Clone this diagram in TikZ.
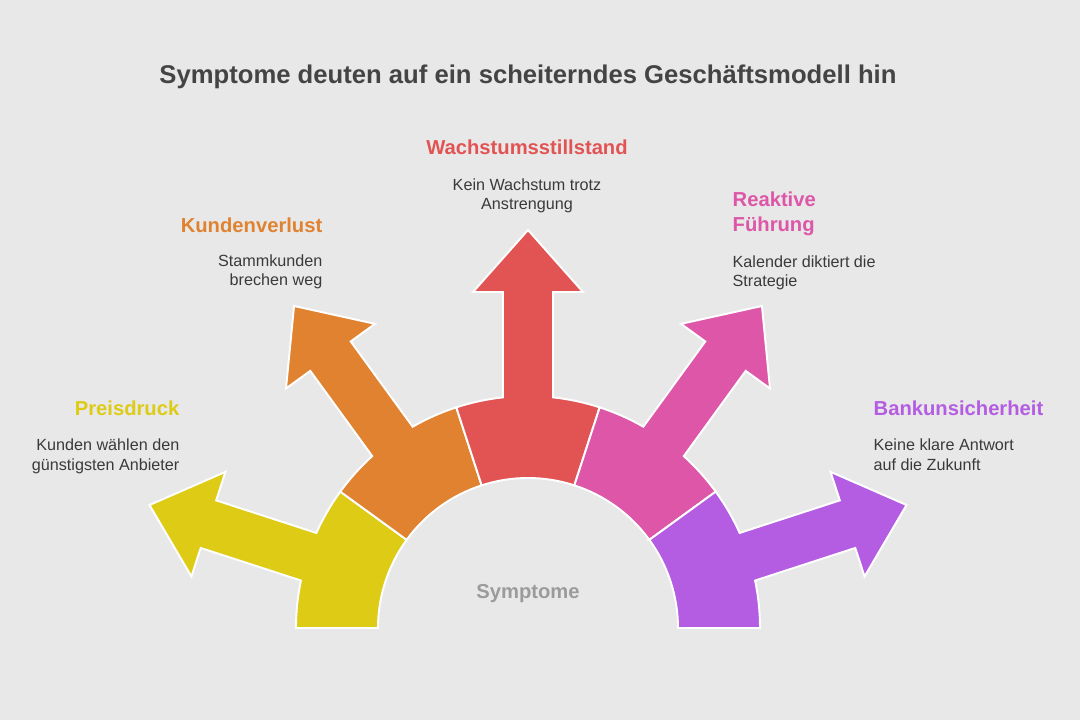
\documentclass[tikz,border=0pt]{standalone}
\usepackage{fontspec}
\setmainfont{Liberation Sans}
\usepackage{xcolor}
\usepackage{tikz}
\usetikzlibrary{positioning, calc}

\definecolor{bgcol}{HTML}{E8E8E8}
\definecolor{preiscol}{HTML}{DDCB16}
\definecolor{kundencol}{HTML}{E08230}
\definecolor{wachscol}{HTML}{E25454}
\definecolor{fuehrcol}{HTML}{DD56A8}
\definecolor{bankcol}{HTML}{B45CE2}
\definecolor{headcol}{HTML}{444444}
\definecolor{textcol}{HTML}{3A3A3A}
\definecolor{hubcol}{HTML}{9B9B9B}

\begin{document}
\begin{tikzpicture}[thick]
    % Styles
    \tikzstyle{symshape} = [draw=white, line width=1.1pt, line join=miter]
    \tikzstyle{heading} = [font=\fontsize{14.6}{17}\selectfont\bfseries, text=headcol, inner sep=0pt]
    \tikzstyle{symtitle} = [font=\fontsize{11.5}{14.4}\selectfont\bfseries, inner sep=0pt]
    \tikzstyle{desc} = [font=\fontsize{9.2}{11.3}\selectfont, text=textcol, inner sep=0pt]

    % Background
    \fill[bgcol] (-10.56,-1.84) rectangle (11.04,12.56);

    % Ring segments with arrows
    \filldraw[symshape, fill=preiscol, rotate=162] (-18:3) -- (-18:4.64) arc[start angle=-18, end angle=-6.19, radius=4.64] -- (6.72,-0.5) -- (6.72,-1.1) -- (7.96,0) -- (6.72,1.1) -- (6.72,0.5) -- (6.19:4.64) arc[start angle=6.19, end angle=18, radius=4.64] -- (18:3) arc[start angle=18, end angle=-18, radius=3] -- cycle;
    \filldraw[symshape, fill=kundencol, rotate=126] (-18:3) -- (-18:4.64) arc[start angle=-18, end angle=-6.19, radius=4.64] -- (6.72,-0.5) -- (6.72,-1.1) -- (7.96,0) -- (6.72,1.1) -- (6.72,0.5) -- (6.19:4.64) arc[start angle=6.19, end angle=18, radius=4.64] -- (18:3) arc[start angle=18, end angle=-18, radius=3] -- cycle;
    \filldraw[symshape, fill=wachscol, rotate=90] (-18:3) -- (-18:4.64) arc[start angle=-18, end angle=-6.19, radius=4.64] -- (6.72,-0.5) -- (6.72,-1.1) -- (7.96,0) -- (6.72,1.1) -- (6.72,0.5) -- (6.19:4.64) arc[start angle=6.19, end angle=18, radius=4.64] -- (18:3) arc[start angle=18, end angle=-18, radius=3] -- cycle;
    \filldraw[symshape, fill=fuehrcol, rotate=54] (-18:3) -- (-18:4.64) arc[start angle=-18, end angle=-6.19, radius=4.64] -- (6.72,-0.5) -- (6.72,-1.1) -- (7.96,0) -- (6.72,1.1) -- (6.72,0.5) -- (6.19:4.64) arc[start angle=6.19, end angle=18, radius=4.64] -- (18:3) arc[start angle=18, end angle=-18, radius=3] -- cycle;
    \filldraw[symshape, fill=bankcol, rotate=18] (-18:3) -- (-18:4.64) arc[start angle=-18, end angle=-6.19, radius=4.64] -- (6.72,-0.5) -- (6.72,-1.1) -- (7.96,0) -- (6.72,1.1) -- (6.72,0.5) -- (6.19:4.64) arc[start angle=6.19, end angle=18, radius=4.64] -- (18:3) arc[start angle=18, end angle=-18, radius=3] -- cycle;

    % Nodes
    \node[heading, anchor=base] (title) at (0,10.88) {Symptome deuten auf ein scheiterndes Geschäftsmodell hin};
    \node[symtitle, text=hubcol, anchor=base] (hub) at (0,0.60) {Symptome};

    \node[symtitle, text=preiscol, anchor=base east] (preis) at (-6.96,4.24) {Preisdruck};
    \node[desc, align=right, anchor=base east] (preisdesc) at (-6.96,3.16) {Kunden wählen den\\günstigsten Anbieter};

    \node[symtitle, text=kundencol, anchor=base east] (kunden) at (-4.10,7.90) {Kundenverlust};
    \node[desc, align=right, anchor=base east] (kundendesc) at (-4.10,6.84) {Stammkunden\\brechen weg};

    \node[symtitle, text=wachscol, anchor=base] (wachs) at (-0.02,9.46) {Wachstumsstillstand};
    \node[desc, align=center, anchor=base] (wachsdesc) at (-0.02,8.36) {Kein Wachstum trotz\\Anstrengung};

    \node[symtitle, text=fuehrcol, align=left, anchor=base west] (fuehr) at (4.08,7.92) {Reaktive\\Führung};
    \node[desc, align=left, anchor=base west] (fuehrdesc) at (4.08,6.82) {Kalender diktiert die\\Strategie};

    \node[symtitle, text=bankcol, anchor=base west] (bank) at (6.90,4.26) {Bankunsicherheit};
    \node[desc, align=left, anchor=base west] (bankdesc) at (6.90,3.16) {Keine klare Antwort\\auf die Zukunft};
\end{tikzpicture}
\end{document}
